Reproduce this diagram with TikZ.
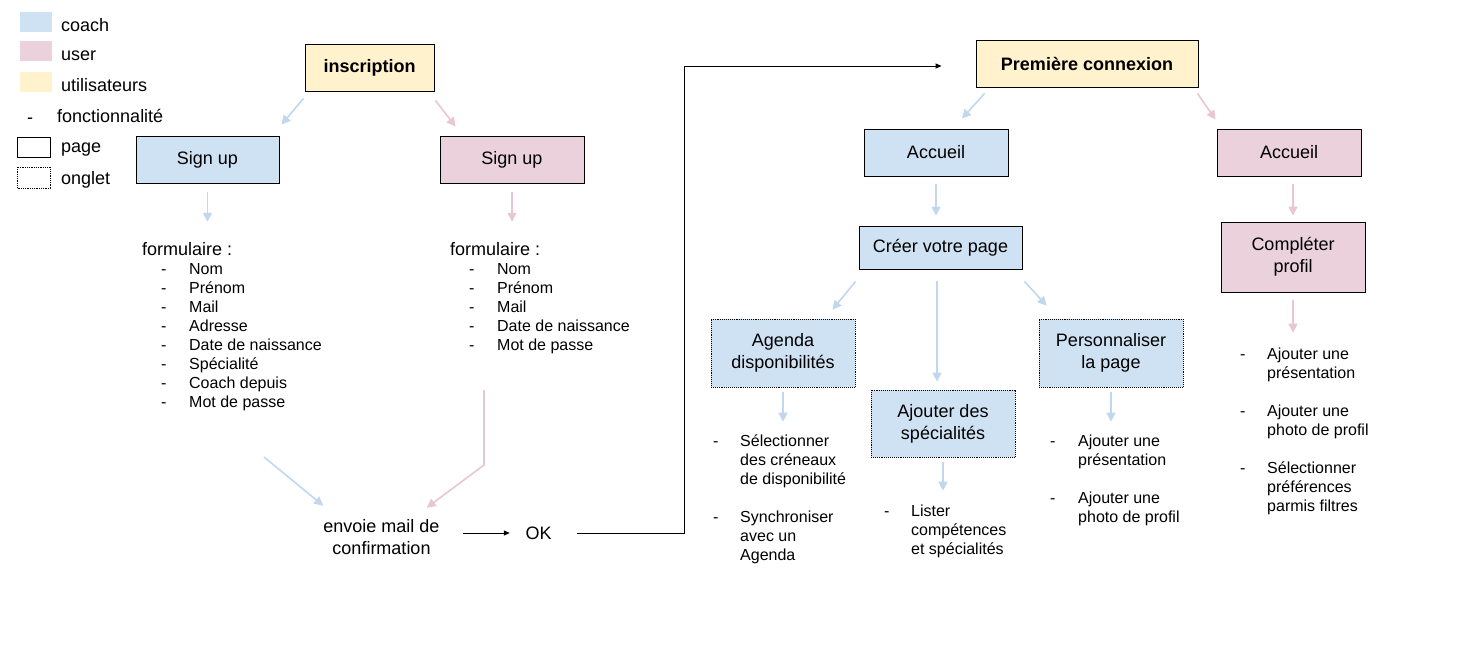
\documentclass[tikz,border=0pt]{standalone}
\usepackage{fontspec}
\setmainfont{Liberation Sans}
\usetikzlibrary{arrows.meta}
\definecolor{coachblue}{HTML}{CFE2F3}
\definecolor{userpink}{HTML}{EAD1DC}
\definecolor{allyellow}{HTML}{FFF2CC}
\definecolor{coacharrow}{RGB}{192,215,238}
\definecolor{userarrow}{RGB}{232,198,211}
\tikzset{
box/.style={line width=0.9pt, minimum height=47pt, align=center, inner sep=0pt, font=\fontsize{18}{22}\selectfont},
pagebox/.style={box, draw=black},
ongletbox/.style={box, draw=black, densely dotted, line width=0.8pt},
coach/.style={fill=coachblue},
user/.style={fill=userpink},
tous/.style={fill=allyellow, font=\fontsize{18}{22}\selectfont\bfseries},
txt/.style={inner sep=0pt, font=\fontsize{18}{22}\selectfont},
lst/.style={inner sep=0pt, anchor=north west, font=\fontsize{16}{19}\selectfont},
coachline/.style={draw=coacharrow, line width=1.6pt, -{Triangle[length=9pt,width=9pt]}},
userline/.style={draw=userarrow, line width=1.6pt, -{Triangle[length=9pt,width=9pt]}},
flow/.style={draw=black, line width=1pt, -{Triangle[length=6pt,width=5pt]}}}

\begin{document}
\begin{tikzpicture}[x=1pt, y=-1pt]
\useasboundingbox (0,0) rectangle (1469,659);

% legende
\fill[coachblue] (20,12) rectangle (52,32);
\fill[userpink] (20,41) rectangle (52,61);
\fill[allyellow] (20,72) rectangle (52,92);
\draw[line width=0.9pt] (17,137) rectangle (50,157);
\draw[densely dotted, line width=0.8pt] (17,167) rectangle (50,188);
\node[txt, anchor=base west] (lgcoach) at (61,31) {coach};
\node[txt, anchor=base west] (lguser) at (61,60) {user};
\node[txt, anchor=base west] (lgtous) at (61,91) {utilisateurs};
\node[txt, anchor=base west] (lgdash) at (27,123) {-};
\node[txt, anchor=base west] (lgfonc) at (57,122) {fonctionnalité};
\node[txt, anchor=base west] (lgpage) at (61,152) {page};
\node[txt, anchor=base west] (lgonglet) at (61,184) {onglet};

% inscription
\node[pagebox, tous, minimum width=129pt] (ins) at (369.5,67.5) {inscription};
\node[pagebox, coach, minimum width=143pt] (suc) at (207.5,159.5) {Sign up};
\node[pagebox, user, minimum width=144pt] (suu) at (512,159.5) {Sign up};

\node[txt, anchor=base west] (fcx) at (142,255) {formulaire :};
\node[lst] (fcl) at (161,260.7) {\begin{tabular}{@{}p{28pt}@{}l@{}}
-&Nom\\ -&Prénom\\ -&Mail\\ -&Adresse\\ -&Date de naissance\\ -&Spécialité\\ -&Coach depuis\\ -&Mot de passe
\end{tabular}};
\node[txt, anchor=base west] (fux) at (450,255) {formulaire :};
\node[lst] (ful) at (469,260.7) {\begin{tabular}{@{}p{28pt}@{}l@{}}
-&Nom\\ -&Prénom\\ -&Mail\\ -&Date de naissance\\ -&Mot de passe
\end{tabular}};

\node[txt, align=center] (env) at (381.5,537.5) {envoie mail de\\confirmation};
\node[txt] (ok) at (538.5,533) {OK};
\coordinate (cfin) at (264,457);
\coordinate (ufin) at (484,390);
\coordinate (turn) at (684,66);

\draw[coachline] ([xshift=-1pt,yshift=-7pt]ins.south west) -- ([xshift=2pt,yshift=11pt]suc.north east);
\draw[userline] ([xshift=1pt,yshift=-9pt]ins.south east) -- ([xshift=16pt,yshift=9pt]suu.north west);
\draw[coachline, shorten <=9pt, shorten >=20pt] (suc.south) -- (suc.south |- fcx.north);
\draw[userline, shorten <=9pt, shorten >=20pt] (suu.south) -- (suu.south |- fux.north);
\draw[coachline] (cfin) -- ([yshift=14pt]env.north west);
\draw[userline] (ufin) -- ++(0,75) -- ([xshift=-13pt,yshift=12pt]env.north east);
\draw[flow, shorten <=23pt, shorten >=15.5pt] (env.east |- ok) -- (ok.west);

% premiere connexion
\node[pagebox, tous, minimum width=222pt] (pc) at (1087,63.5) {Première connexion};
\node[pagebox, coach, minimum width=144pt] (acc) at (936,152.5) {Accueil};
\node[pagebox, user, minimum width=144pt] (acu) at (1289,152.5) {Accueil};
\node[pagebox, coach, minimum width=163pt, minimum height=43pt] (cvp) at (940.5,247.5) {Créer votre page};
\node[pagebox, user, minimum width=144pt, minimum height=70pt] (cpr) at (1293,257) {Compléter\\profil};
\node[ongletbox, coach, minimum width=144pt, minimum height=68pt] (agd) at (783,353) {Agenda\\disponibilités};
\node[ongletbox, coach, minimum width=144pt, minimum height=67pt] (spe) at (943,423.5) {Ajouter des\\spécialités};
\node[ongletbox, coach, minimum width=144pt, minimum height=68pt] (per) at (1111,353) {Personnaliser\\la page};

\draw[flow, shorten <=25.5pt, shorten >=34pt] (ok.east) -| (turn) -- (turn -| pc.west);

\node[lst] (agl) at (713,432.7) {\begin{tabular}{@{}p{27pt}@{}l@{}}
-&Sélectionner\\ &des créneaux\\ &de disponibilité\\ &\\ -&Synchroniser\\ &avec un\\ &Agenda
\end{tabular}};
\node[lst] (spl) at (884,502.7) {\begin{tabular}{@{}p{27pt}@{}l@{}}
-&Lister\\ &compétences\\ &et spécialités
\end{tabular}};
\node[lst] (pel) at (1050,432.7) {\begin{tabular}{@{}p{28pt}@{}l@{}}
-&Ajouter une\\ &présentation\\ &\\ -&Ajouter une\\ &photo de profil
\end{tabular}};
\node[lst] (cpl) at (1240,345.7) {\begin{tabular}{@{}p{27pt}@{}l@{}}
-&Ajouter une\\ &présentation\\ &\\ -&Ajouter une\\ &photo de profil\\ &\\ -&Sélectionner\\ &préférences\\ &parmis filtres
\end{tabular}};

\draw[coachline] ([xshift=9pt,yshift=-6pt]pc.south west) -- ([xshift=26pt,yshift=10pt]acc.north);
\draw[userline] ([xshift=-1pt,yshift=-6pt]pc.south east) -- ([xshift=-1pt,yshift=9pt]acu.north west);
\draw[coachline, shorten <=8pt, shorten >=10pt] (acc.south) -- (acc.south |- cvp.north);
\draw[userline, shorten <=8pt, shorten >=6pt] (cpr.north |- acu.south) -- (cpr.north);
\draw[coachline] ([xshift=-3pt,yshift=-12pt]cvp.south west) -- ([xshift=-23pt,yshift=9pt]agd.north east);
\draw[coachline, shorten <=12pt, shorten >=8pt] ([xshift=-3.5pt]cvp.south) -- ([xshift=-3.5pt]cvp.south |- spe.north);
\draw[coachline] ([xshift=2pt,yshift=-12pt]cvp.south east) -- ([xshift=8pt,yshift=13pt]per.north west);
\draw[coachline, shorten <=5pt, shorten >=11pt] (agd.south) -- (agd.south |- agl.north);
\draw[coachline, shorten <=5pt, shorten >=12pt] (spe.south) -- (spe.south |- spl.north);
\draw[coachline, shorten <=5pt, shorten >=11pt] (per.south) -- (per.south |- pel.north);
\draw[userline, shorten <=8pt, shorten >=13pt] (cpr.south) -- (cpr.south |- cpl.north);

\end{tikzpicture}
\end{document}
